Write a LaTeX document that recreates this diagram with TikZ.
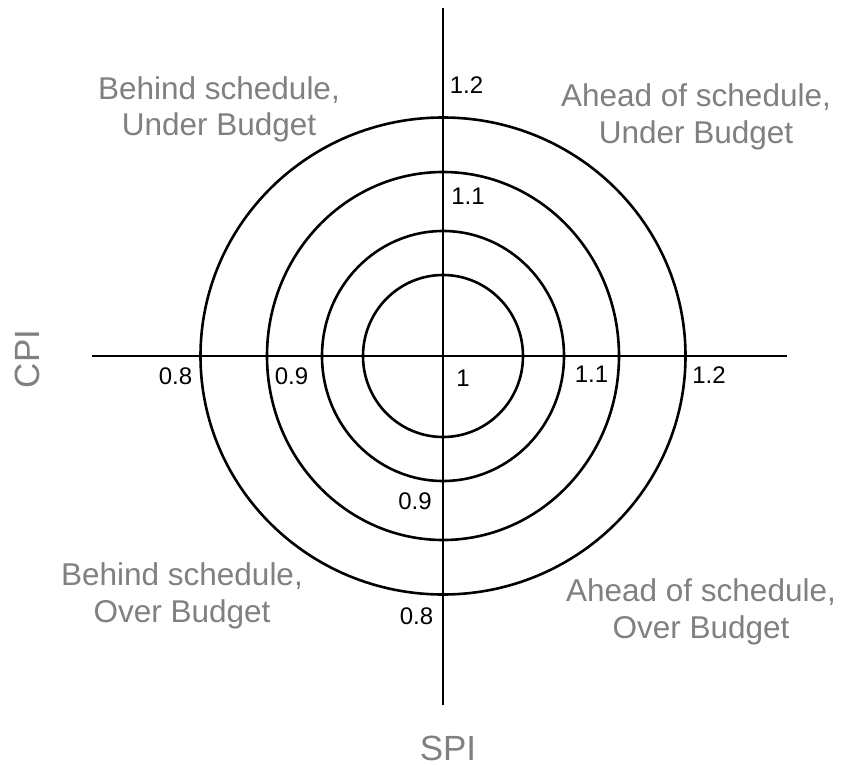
\documentclass[tikz,border=0pt]{standalone}
\usepackage{fontspec}
\setmainfont{Liberation Sans}
\usepackage{color}
\usepackage{tikz}

\definecolor{labelgray}{RGB}{128,128,128}

\begin{document}
\begin{tikzpicture}[x=1pt,y=-1pt,line width=2.6pt,
   tick/.style={inner sep=0pt,font=\fontsize{24}{28}\selectfont},
   zone/.style={inner sep=0pt,align=center,text=labelgray,font=\fontsize{31.5}{36.5}\selectfont},
   axis name/.style={inner sep=0pt,text=labelgray,font=\fontsize{35}{40}\selectfont}]

\useasboundingbox (0,0) rectangle (841,765);

\coordinate (o) at (443,356);
\coordinate (top) at (443,8);
\coordinate (bottom) at (443,705);
\coordinate (left) at (92,356);
\coordinate (right) at (787,356);

\draw (o) ellipse [x radius=80, y radius=81];
\draw (o) ellipse [x radius=121, y radius=125];
\draw (o) ellipse [x radius=176, y radius=184];
\draw (o) ellipse [x radius=242.5, y radius=238.5];

\path (top) edge [] (bottom);
\path (left) edge [] (right);

\node[tick] (t12) at (466.5,85.5){1.2};
\node[tick] (t11) at (468,196.5){1.1};
\node[tick] (c1) at (463,378){1};
\node[tick] (b09) at (415,501){0.9};
\node[tick] (b08) at (416.5,616){0.8};
\node[tick] (l08) at (175.5,376){0.8};
\node[tick] (l09) at (291.5,376){0.9};
\node[tick] (r11) at (591.5,374.5){1.1};
\node[tick] (r12) at (709,375){1.2};

\node[zone] (bu) at (219,109.5){Behind schedule,\\Under Budget};
\node[zone] (au) at (696,117){Ahead of schedule,\\Under Budget};
\node[zone] (bo) at (182,596){Behind schedule,\\Over Budget};
\node[zone] (ao) at (701,612){Ahead of schedule,\\Over Budget};

\node[axis name,rotate=90] (cpi) at (27,359){CPI};
\node[axis name] (spi) at (448,748.5){SPI};

\end{tikzpicture}
\end{document}
